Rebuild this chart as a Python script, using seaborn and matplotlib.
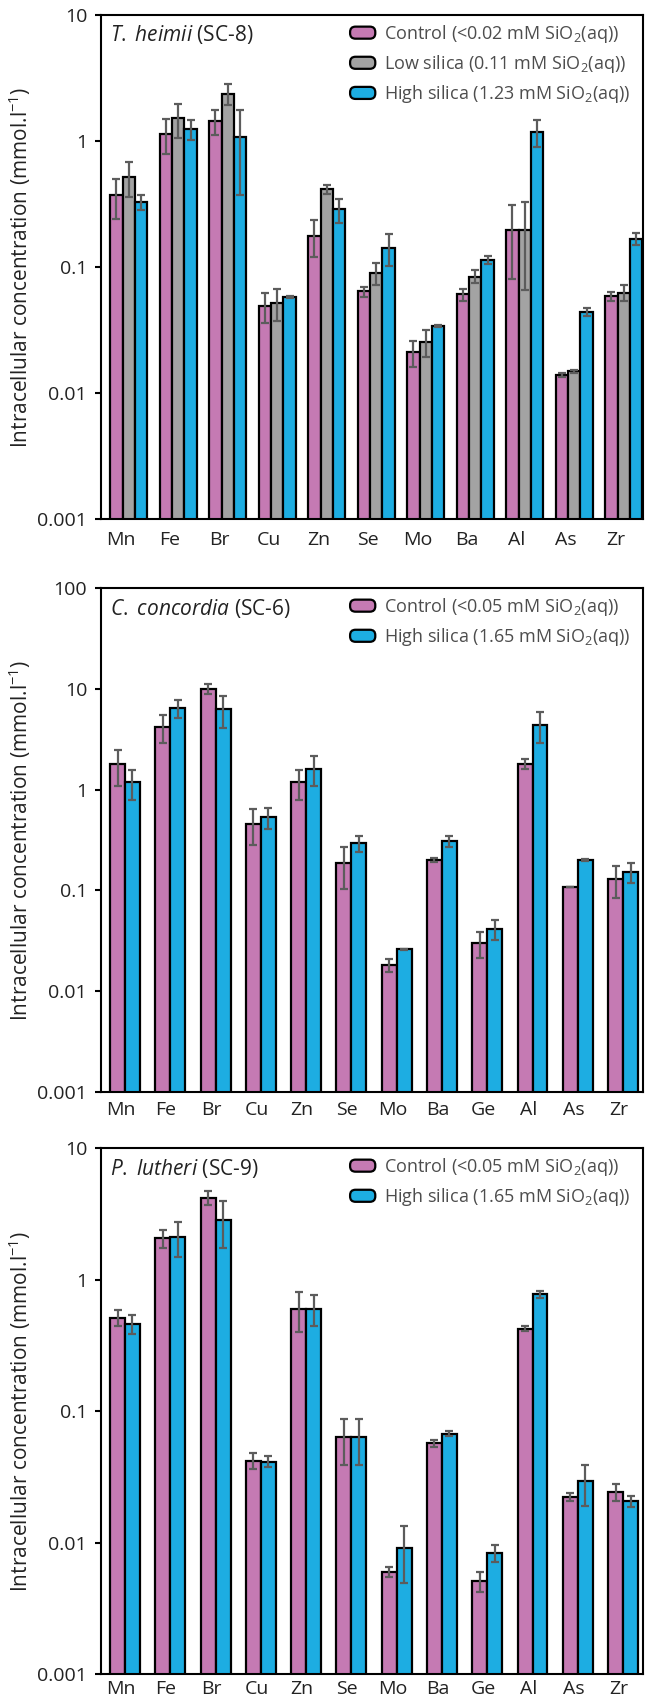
import matplotlib
matplotlib.use("Agg")
import matplotlib.pyplot as plt
import matplotlib.transforms as mtransforms
from matplotlib.patches import Patch, FancyBboxPatch
from matplotlib.legend_handler import HandlerPatch
from matplotlib.ticker import NullLocator
import pandas as pd
import seaborn as sns

# ---------------- data ----------------
elements_a = ['Mn', 'Fe', 'Br', 'Cu', 'Zn', 'Se', 'Mo', 'Ba', 'Al', 'As', 'Zr']
ctrl_a = [0.37, 1.14, 1.44, 0.049, 0.177, 0.064, 0.021, 0.0605, 0.196, 0.0139, 0.0586]
ctrl_a_sd = [0.13, 0.35, 0.32, 0.013, 0.058, 0.006, 0.005, 0.007, 0.115, 0.0004, 0.005]
low_a = [0.52, 1.51, 2.38, 0.052, 0.415, 0.0895, 0.0254, 0.084, 0.196, 0.0149, 0.0625]
low_a_sd = [0.16, 0.46, 0.46, 0.015, 0.035, 0.018, 0.006, 0.010, 0.13, 0.0004, 0.009]
high_a = [0.33, 1.25, 1.07, 0.0574, 0.286, 0.142, 0.034, 0.114, 1.18, 0.0443, 0.168]
high_a_sd = [0.045, 0.23, 0.70, 0.001, 0.062, 0.04, 0.0008, 0.008, 0.28, 0.0033, 0.019]
labels_a = ['Control (<0.02 mM SiO$_2$(aq))', 'Low silica (0.11 mM SiO$_2$(aq))',
            'High silica (1.23 mM SiO$_2$(aq))']

elements_b = ['Mn', 'Fe', 'Br', 'Cu', 'Zn', 'Se', 'Mo', 'Ba', 'Ge', 'Al', 'As', 'Zr']
ctrl_b = [1.79, 4.18, 10.0, 0.46, 1.18, 0.187, 0.0182, 0.20, 0.030, 1.79, 0.108, 0.13]
ctrl_b_sd = [0.70, 1.3, 1.2, 0.18, 0.40, 0.083, 0.0026, 0.008, 0.0085, 0.2, 0.001, 0.046]
high_b = [1.18, 6.44, 6.3, 0.533, 1.61, 0.294, 0.026, 0.308, 0.0417, 4.39, 0.20, 0.153]
high_b_sd = [0.40, 1.3, 2.2, 0.13, 0.52, 0.052, 0.0005, 0.039, 0.0093, 1.5, 0.006, 0.034]
labels_b = ['Control (<0.05 mM SiO$_2$(aq))', 'High silica (1.65 mM SiO$_2$(aq))']

elements_c = ['Mn', 'Fe', 'Br', 'Cu', 'Zn', 'Se', 'Mo', 'Ba', 'Ge', 'Al', 'As', 'Zr']
ctrl_c = [0.514, 2.06, 4.2, 0.042, 0.60, 0.063, 0.00596, 0.0567, 0.00507, 0.423, 0.0222, 0.0243]
ctrl_c_sd = [0.07, 0.33, 0.5, 0.006, 0.20, 0.024, 0.0005, 0.0036, 0.0009, 0.02, 0.0015, 0.0035]
high_c = [0.46, 2.10, 2.85, 0.0412, 0.60, 0.063, 0.0091, 0.067, 0.0083, 0.77, 0.0291, 0.0207]
high_c_sd = [0.075, 0.62, 1.1, 0.004, 0.16, 0.024, 0.0042, 0.003, 0.0012, 0.05, 0.01, 0.002]
labels_c = ['Control (<0.05 mM SiO$_2$(aq))', 'High silica (1.65 mM SiO$_2$(aq))']

titles = [r'$\mathit{T.}$ $\mathit{heimii}$ (SC-8)',
          r'$\mathit{C.}$ $\mathit{concordia}$ (SC-6)',
          r'$\mathit{P.}$ $\mathit{lutheri}$ (SC-9)']
yticks_a = [0.001, 0.01, 0.1, 1, 10]
yticklabels_a = ['0.001', '0.01', '0.1', '1', '10']
yticks_b = [0.001, 0.01, 0.1, 1, 10, 100]
yticklabels_b = ['0.001', '0.01', '0.1', '1', '10', '100']
ylabel = 'Intracellular concentration (mmol.l$^{-1}$)'

PINK = '#C57AB3'
GREY = '#A3A3A3'
CYAN = '#1DADE2'

# ---------------- style ----------------
sns.set_theme(style='ticks')
plt.rcParams['font.family'] = ['Open Sans', 'DejaVu Sans']
plt.rcParams['mathtext.fontset'] = 'custom'
plt.rcParams['mathtext.rm'] = 'Open Sans'
plt.rcParams['mathtext.it'] = 'Open Sans:italic'
plt.rcParams['mathtext.bf'] = 'Open Sans:bold'
plt.rcParams['axes.edgecolor'] = 'black'
plt.rcParams['xtick.color'] = 'black'
plt.rcParams['ytick.color'] = 'black'
TEXT = '#222222'


class RoundHandler(HandlerPatch):
    def create_artists(self, legend, orig_handle, xdescent, ydescent, width,
                       height, fontsize, trans):
        p = FancyBboxPatch((-xdescent + 1, -ydescent), width - 2, height,
                           boxstyle=f'round,pad=0,rounding_size={height * 0.45}',
                           fc=orig_handle.get_facecolor(), ec='black', lw=1.6,
                           transform=trans)
        return [p]


fig = plt.figure(figsize=(6.45, 17.0), dpi=100)
rects = [
    [101 / 645, 1 - 519 / 1700, 542 / 645, 504 / 1700],
    [101 / 645, 1 - 1092 / 1700, 542 / 645, 504 / 1700],
    [101 / 645, 1 - 1674 / 1700, 542 / 645, 526 / 1700],
]

panels = [
    dict(elements=elements_a, series=[(ctrl_a, ctrl_a_sd), (low_a, low_a_sd), (high_a, high_a_sd)],
         labels=labels_a, colors=[PINK, GREY, CYAN], width=0.75, ylim=(0.001, 10),
         yticks=yticks_a, yticklabels=yticklabels_a, xlim=(-0.56, 10.39), shift=-6.0,
         xpad=8.5),
    dict(elements=elements_b, series=[(ctrl_b, ctrl_b_sd), (high_b, high_b_sd)],
         labels=labels_b, colors=[PINK, CYAN], width=0.66, ylim=(0.001, 100),
         yticks=yticks_b, yticklabels=yticklabels_b, xlim=(-0.53, 11.44), shift=-3.0,
         xpad=6.5),
    dict(elements=elements_c, series=[(ctrl_c, ctrl_c_sd), (high_c, high_c_sd)],
         labels=labels_c, colors=[PINK, CYAN], width=0.66, ylim=(0.001, 10),
         yticks=yticks_a, yticklabels=yticklabels_a, xlim=(-0.53, 11.44), shift=-3.0,
         xpad=4.5),
]

for i, (rect, P) in enumerate(zip(rects, panels)):
    ax = fig.add_axes(rect)
    ax.set_yscale('log')
    frames = []
    for (vals, sds), lab in zip(P['series'], P['labels']):
        frames.append(pd.DataFrame({'element': P['elements'], 'treatment': lab,
                                    'value': vals, 'sd': sds}))
    df = pd.concat(frames, ignore_index=True)
    sns.barplot(data=df, x='element', y='value', hue='treatment',
                order=P['elements'], hue_order=P['labels'], palette=P['colors'],
                width=P['width'], gap=0, errorbar=None, edgecolor='black',
                linewidth=1.6, saturation=1, legend=False, ax=ax)
    for cont, (vals, sds) in zip(ax.containers, P['series']):
        xs = [b.get_x() + b.get_width() / 2 for b in cont]
        ax.errorbar(xs, vals, yerr=sds, fmt='none', ecolor='#5c5c5c',
                    elinewidth=1.6, capsize=3, capthick=1.6, zorder=5)
    ax.set_ylim(*P['ylim'])
    ax.set_xlim(*P['xlim'])
    ax.set_yticks(P['yticks'])
    ax.set_yticklabels(P['yticklabels'])
    ax.yaxis.set_minor_locator(NullLocator())
    ax.tick_params(axis='y', direction='out', length=4.5, width=1.5, labelsize=14,
                   pad=5.5, labelcolor=TEXT)
    ax.tick_params(axis='x', length=0, pad=P['xpad'], labelsize=14, labelcolor=TEXT)
    off = mtransforms.ScaledTranslation(P['shift'] / 72, 0, fig.dpi_scale_trans)
    for lab in ax.get_xticklabels():
        lab.set_transform(lab.get_transform() + off)
    for s in ax.spines.values():
        s.set_linewidth(1.5)
        s.set_color('black')
    ax.set_xlabel('')
    ax.set_ylabel(ylabel, fontsize=15, color=TEXT)
    ax.yaxis.set_label_coords(-0.125, 0.5)
    ytitle = 1 - 20 / (rect[3] * 1700)
    ax.text(0.017, ytitle, titles[i], transform=ax.transAxes, fontsize=15,
            va='center', ha='left', color=TEXT)
    handles = [Patch(facecolor=c, edgecolor='black') for c in P['colors']]
    ax.legend(handles, P['labels'], loc='upper left',
              bbox_to_anchor=(0.457, 1 - 8 / (rect[3] * 1700)), frameon=False,
              fontsize=13, labelcolor='#4d4d4d', borderaxespad=0, borderpad=0,
              handlelength=1.55, handleheight=0.65, handletextpad=0.4,
              labelspacing=0.45, handler_map={Patch: RoundHandler()})

fig.savefig('out.png', dpi=100)
